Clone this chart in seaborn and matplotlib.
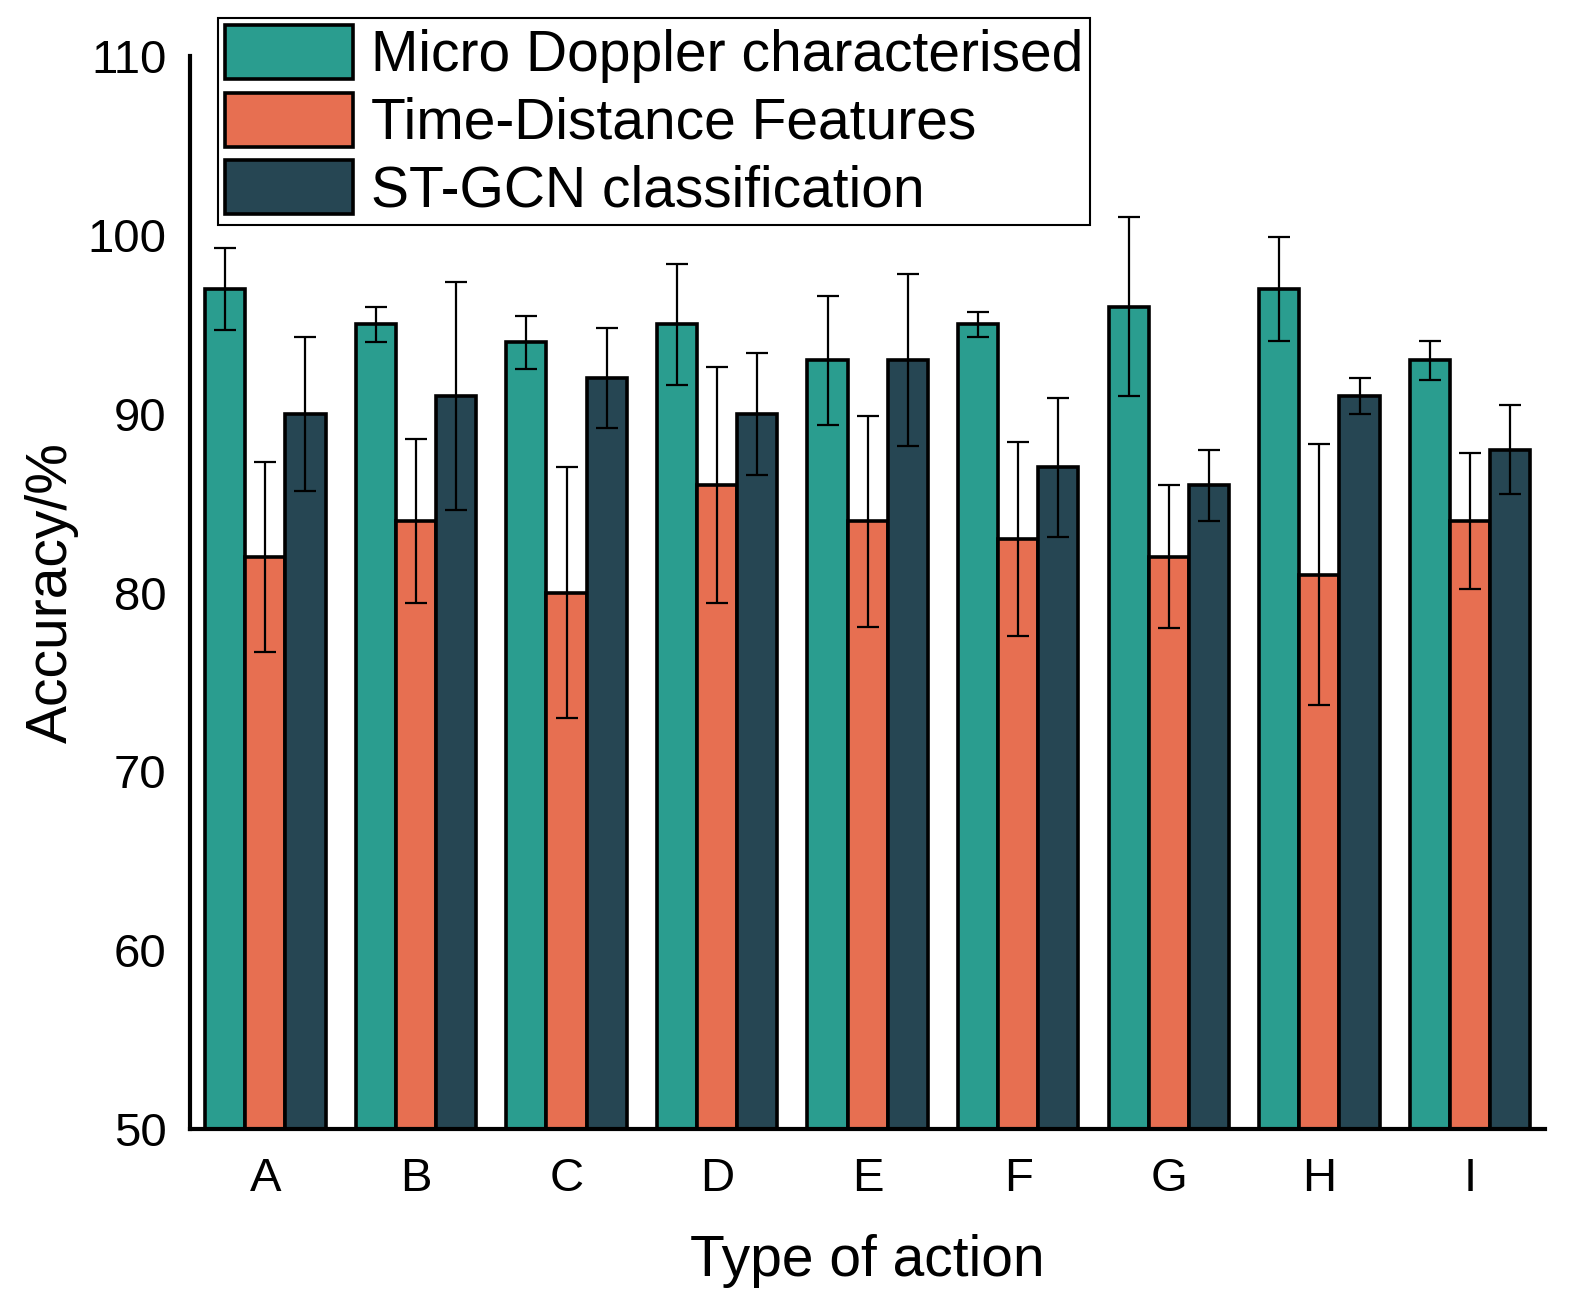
import matplotlib
matplotlib.use("Agg")
import matplotlib.pyplot as plt
import seaborn as sns
import pandas as pd
import numpy as np

categories = ["A", "B", "C", "D", "E", "F", "G", "H", "I"]
series_names = ["Micro Doppler characterised", "Time-Distance Features", "ST-GCN classification"]
micro_doppler = [97, 95, 94, 95, 93, 95, 96, 97, 93]
time_distance = [82, 84, 80, 86, 84, 83, 82, 81, 84]
st_gcn = [90, 91, 92, 90, 93, 87, 86, 91, 88]
micro_doppler_err = [2.3, 1.0, 1.5, 3.4, 3.6, 0.7, 5.0, 2.9, 1.1]
time_distance_err = [5.3, 4.6, 7.0, 6.6, 5.9, 5.4, 4.0, 7.3, 3.8]
st_gcn_err = [4.3, 6.4, 2.8, 3.4, 4.8, 3.9, 2.0, 1.0, 2.5]
colors = ["#2A9D8F", "#E76F51", "#264653"]

values = [micro_doppler, time_distance, st_gcn]
errors = [micro_doppler_err, time_distance_err, st_gcn_err]
df = pd.DataFrame({
    "Type": categories * 3,
    "Series": [s for s in series_names for _ in categories],
    "Accuracy": [v for vals in values for v in vals],
})

sns.set_theme(style="white")
plt.rcParams["font.family"] = ["Liberation Sans", "DejaVu Sans"]
plt.rcParams["text.color"] = "black"
plt.rcParams["axes.labelcolor"] = "black"

fig = plt.figure(figsize=(15.72, 13.08), dpi=100)
ax = fig.add_axes([0.1209, 0.1368, 0.983 - 0.1209, 0.957 - 0.1368])

sns.barplot(data=df, x="Type", y="Accuracy", hue="Series", hue_order=series_names,
            palette=colors, errorbar=None, width=0.8, saturation=1,
            edgecolor="black", linewidth=2.6, ax=ax)

for cont, errs in zip(ax.containers, errors):
    xs = [b.get_x() + b.get_width() / 2 for b in cont]
    hs = [b.get_height() for b in cont]
    ax.errorbar(xs, hs, yerr=errs, fmt="none", ecolor="black", elinewidth=1.6,
                capsize=8, capthick=1.6, zorder=5)

ax.set_ylim(50, 110)
ax.set_xlim(-0.5, 8.5)
ax.set_yticks([50, 60, 70, 80, 90, 100, 110])
sns.despine(ax=ax)
for s in ["left", "bottom"]:
    ax.spines[s].set_linewidth(3)
    ax.spines[s].set_color("black")
ax.tick_params(axis="y", direction="in", length=15, width=3, labelsize=34, pad=17, colors="black")
ax.tick_params(axis="x", length=0, labelsize=34, pad=20, colors="black")
ax.set_xlabel("Type of action", fontsize=41, labelpad=24, color="black")
ax.set_ylabel("Accuracy/%", fontsize=41, labelpad=6, color="black")

handles, labels = ax.get_legend_handles_labels()
ax.legend(handles, labels, loc="upper left", bbox_to_anchor=(0.1387, 0.986),
          bbox_transform=fig.transFigure, fontsize=41, frameon=True, fancybox=False,
          edgecolor="black", framealpha=1, borderaxespad=0, borderpad=0.12,
          handlelength=2.25, handleheight=1.08, labelspacing=0.16, handletextpad=0.32)
ax.get_legend().get_frame().set_linewidth(1.5)

fig.savefig("out.png", dpi=100)
